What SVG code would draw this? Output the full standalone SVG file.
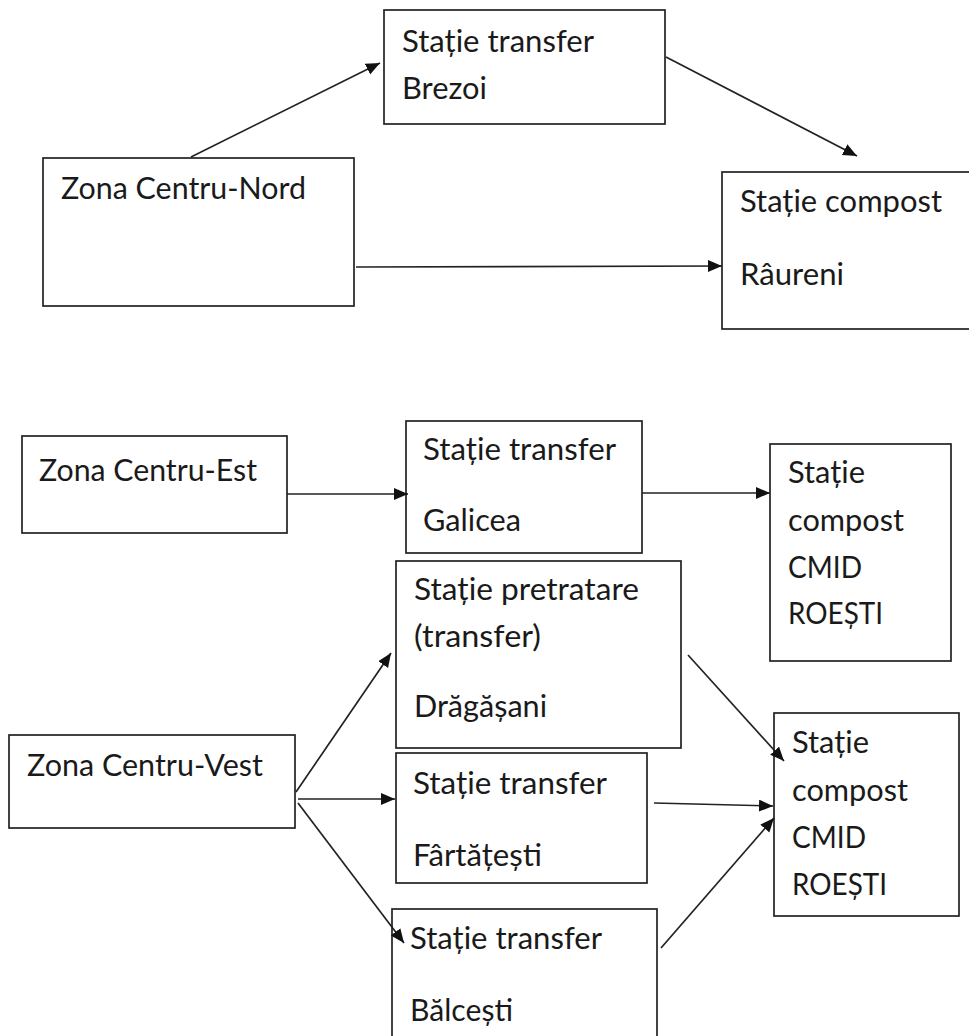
<svg xmlns="http://www.w3.org/2000/svg" width="969" height="1036" viewBox="0 0 969 1036">
<style>
.box{fill:#fff;stroke:#222;stroke-width:1.7}
.t{font-family:Lato,"Liberation Sans",sans-serif;font-size:30px;fill:#1a1a1a}
.c{stroke:#222;stroke-width:1.7;fill:none;marker-end:url(#ah)}
</style>
<defs>
<marker id="ah" markerUnits="userSpaceOnUse" markerWidth="16" markerHeight="13" refX="14" refY="6" orient="auto">
<path d="M0,0 L14,6 L0,12 Z" fill="#111"/>
</marker>
</defs>
<rect width="969" height="1036" fill="#fff"/>
<g id="brezoi">
<rect class="box" x="384" y="10" width="281" height="114"/>
<text class="t" x="402" y="52" textLength="192" lengthAdjust="spacingAndGlyphs">Stație transfer</text>
<text class="t" x="402" y="99" textLength="85" lengthAdjust="spacingAndGlyphs">Brezoi</text>
</g>
<g id="nord">
<rect class="box" x="43" y="158" width="311" height="148"/>
<text class="t" x="61" y="199" textLength="245" lengthAdjust="spacingAndGlyphs">Zona Centru-Nord</text>
</g>
<g id="raureni">
<rect class="box" x="722" y="172" width="250" height="157"/>
<text class="t" x="740" y="212" textLength="202" lengthAdjust="spacingAndGlyphs">Stație compost</text>
<text class="t" x="740" y="285" textLength="104" lengthAdjust="spacingAndGlyphs">Râureni</text>
</g>
<g id="est">
<rect class="box" x="22" y="436" width="265" height="97"/>
<text class="t" x="39" y="481" textLength="218" lengthAdjust="spacingAndGlyphs">Zona Centru-Est</text>
</g>
<g id="galicea">
<rect class="box" x="406" y="421" width="236" height="132"/>
<text class="t" x="423" y="460" textLength="193" lengthAdjust="spacingAndGlyphs">Stație transfer</text>
<text class="t" x="423" y="531" textLength="98" lengthAdjust="spacingAndGlyphs">Galicea</text>
</g>
<g id="cmid1">
<rect class="box" x="770" y="444" width="181" height="217"/>
<text class="t" x="788" y="483" textLength="77" lengthAdjust="spacingAndGlyphs">Stație</text>
<text class="t" x="788" y="531" textLength="116" lengthAdjust="spacingAndGlyphs">compost</text>
<text class="t" x="788" y="578" textLength="74" lengthAdjust="spacingAndGlyphs">CMID</text>
<text class="t" x="788" y="624" textLength="95" lengthAdjust="spacingAndGlyphs">ROEȘTI</text>
</g>
<g id="dragasani">
<rect class="box" x="396" y="561" width="285" height="187"/>
<text class="t" x="414" y="600" textLength="225" lengthAdjust="spacingAndGlyphs">Stație pretratare</text>
<text class="t" x="414" y="647" textLength="127" lengthAdjust="spacingAndGlyphs">(transfer)</text>
<text class="t" x="414" y="717" textLength="133" lengthAdjust="spacingAndGlyphs">Drăgășani</text>
</g>
<g id="vest">
<rect class="box" x="9" y="735" width="286" height="93"/>
<text class="t" x="27" y="776" textLength="236" lengthAdjust="spacingAndGlyphs">Zona Centru-Vest</text>
</g>
<g id="fartatesti">
<rect class="box" x="396" y="753" width="251" height="130"/>
<text class="t" x="413" y="794" textLength="194" lengthAdjust="spacingAndGlyphs">Stație transfer</text>
<text class="t" x="413" y="866" textLength="129" lengthAdjust="spacingAndGlyphs">Fârtățești</text>
</g>
<g id="balcesti">
<rect class="box" x="392" y="909" width="265" height="140"/>
<text class="t" x="410" y="949" textLength="192" lengthAdjust="spacingAndGlyphs">Stație transfer</text>
<text class="t" x="410" y="1021" textLength="103" lengthAdjust="spacingAndGlyphs">Bălcești</text>
</g>
<g id="cmid2">
<rect class="box" x="774" y="713" width="185" height="203"/>
<text class="t" x="792" y="753" textLength="77" lengthAdjust="spacingAndGlyphs">Stație</text>
<text class="t" x="792" y="801" textLength="116" lengthAdjust="spacingAndGlyphs">compost</text>
<text class="t" x="792" y="848" textLength="74" lengthAdjust="spacingAndGlyphs">CMID</text>
<text class="t" x="792" y="895" textLength="95" lengthAdjust="spacingAndGlyphs">ROEȘTI</text>
</g>
<g id="connectors">
<line class="c" x1="191" y1="157" x2="380" y2="63"/>
<line class="c" x1="666" y1="57" x2="857" y2="156"/>
<line class="c" x1="356" y1="267" x2="722" y2="266"/>
<line class="c" x1="287" y1="494" x2="408" y2="494"/>
<line class="c" x1="642" y1="493" x2="770" y2="493"/>
<line class="c" x1="296" y1="792" x2="391" y2="653"/>
<line class="c" x1="298" y1="799" x2="395" y2="799"/>
<line class="c" x1="298" y1="803" x2="404" y2="943"/>
<line class="c" x1="688" y1="655" x2="784" y2="761"/>
<line class="c" x1="654" y1="803" x2="773" y2="806"/>
<line class="c" x1="661" y1="948" x2="774" y2="818"/>
</g>
</svg>
